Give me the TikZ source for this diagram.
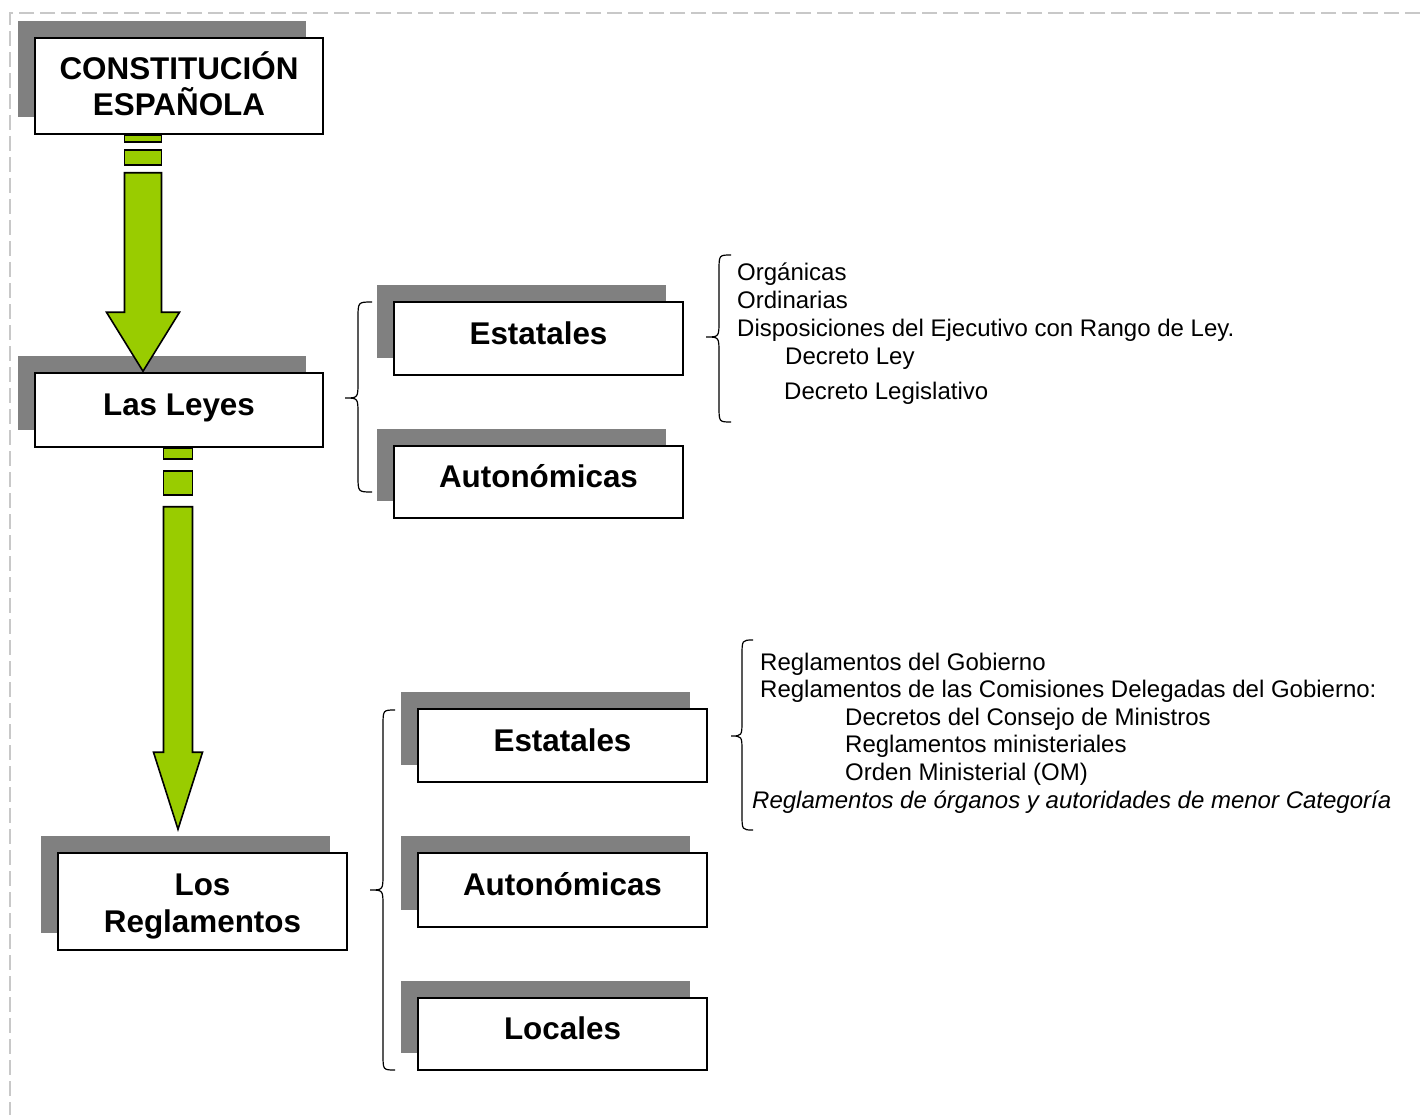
\documentclass[tikz,border=0pt]{standalone}
\usepackage{fontspec}
\setmainfont{Liberation Sans}
\usetikzlibrary{calc,shadows}
\definecolor{grn}{RGB}{153,204,0}
\definecolor{shd}{RGB}{128,128,128}
\definecolor{frm}{RGB}{200,200,200}
\tikzset{
  box/.style={draw=black, line width=1.5pt, fill=white, inner sep=0pt, align=center,
    font=\fontsize{31.4}{36}\selectfont\bfseries,
    general shadow={fill=shd, shadow xshift=-17pt, shadow yshift=17pt}},
  oneline/.style={text height=23pt, text depth=12pt},
  lbl/.style={anchor=base west, inner sep=0pt, font=\fontsize{24}{28}\selectfont},
  brc/.style={draw=black, line width=1.2pt},
  arr/.style={fill=grn, draw=black, line width=1.6pt, line join=miter},
  frame/.style={draw=frm, line width=2pt, dash pattern=on 15pt off 6pt}
}
\newcommand\liftt[2]{\raisebox{#1}[\height][\depth]{#2}}
\newcommand\curlyb[6]{% end x, vertical x, tip x, top y, middle y, bottom y
  \draw[brc] (#1,#4) .. controls (#2,#4) .. (#2,#4+16) -- (#2,#5-16)
    .. controls (#2,#5) .. (#3,#5) .. controls (#2,#5) .. (#2,#5+16)
    -- (#2,#6-16) .. controls (#2,#6) .. (#1,#6);}
\begin{document}
\begin{tikzpicture}[x=1pt,y=-1pt]
\useasboundingbox (0,0) rectangle (1420,1115);
\draw[frame] (1420,13) -- (10,13) -- (10,1115);

% main column
\node[box, minimum width=288, minimum height=96] (ce) at (179,86) {\liftt{2pt}{CONSTITUCIÓN}\\\liftt{2pt}{ESPAÑOLA}};
\node[box, oneline, minimum width=288, minimum height=74] (leyes) at (179,410) {Las Leyes};
\node[box, minimum width=289, minimum height=97] (reg) at (202.5,901.5) {\liftt{-5pt}{Los}\\\liftt{-6pt}{Reglamentos}};

% leyes group
\node[box, oneline, minimum width=289, minimum height=73] (est1) at (538.5,338.5) {Estatales};
\node[box, oneline, minimum width=289, minimum height=72] (aut1) at (538.5,482) {Autonómicas};

% reglamentos group
\node[box, oneline, minimum width=289, minimum height=73] (est2) at (562.5,745.5) {Estatales};
\node[box, oneline, minimum width=289, minimum height=74] (aut2) at (562.5,890) {Autonómicas};
\node[box, oneline, minimum width=289, minimum height=72] (loc) at (562.5,1034) {Locales};

% arrow 1
\coordinate (a1t) at ($(ce.south)+(-36,0)$);
\coordinate (a1p) at ($(leyes.north)+(-36,-1)$);
\filldraw[arr] ($(a1t)+(-18.5,0)$) rectangle ($(a1t)+(18.5,7)$);
\filldraw[arr] ($(a1t)+(-18.5,15)$) rectangle ($(a1t)+(18.5,30)$);
\filldraw[arr] ($(a1t)+(-18.5,38)$) -- ($(a1t)+(18.5,38)$) -- ($(a1p)+(18.5,-59)$)
  -- ($(a1p)+(36.5,-59)$) -- (a1p) -- ($(a1p)+(-36.5,-59)$) -- ($(a1p)+(-18.5,-59)$) -- cycle;

% arrow 2
\coordinate (a2t) at ($(leyes.south)+(-1,0)$);
\coordinate (a2p) at ($(reg.north)+(-24.5,-23)$);
\filldraw[arr] ($(a2t)+(-14.5,0)$) rectangle ($(a2t)+(14.5,11)$);
\filldraw[arr] ($(a2t)+(-14.5,23)$) rectangle ($(a2t)+(14.5,47)$);
\filldraw[arr] ($(a2t)+(-14.5,59)$) -- ($(a2t)+(14.5,59)$) -- ($(a2p)+(14.5,-77)$)
  -- ($(a2p)+(24.5,-77)$) -- (a2p) -- ($(a2p)+(-24.5,-77)$) -- ($(a2p)+(-14.5,-77)$) -- cycle;

% braces
\curlyb{372}{358}{345}{302}{398}{492}
\curlyb{395}{383}{370}{710}{890}{1070}
\curlyb{731}{719}{706}{255}{337}{422}
\curlyb{753}{742}{731}{640}{736}{830}

% texts leyes
\node[lbl] (t1) at (737,280.6) {Orgánicas};
\node[lbl] (t2) at (737,308.6) {Ordinarias};
\node[lbl] (t3) at (737,336.6) {Disposiciones del Ejecutivo con Rango de Ley.};
\node[lbl] (t4) at (785,364.6) {Decreto Ley};
\node[lbl] (t5) at (784,399.6) {Decreto Legislativo};

% texts reglamentos
\node[lbl] (r1) at (760,670.6) {Reglamentos del Gobierno};
\node[lbl] (r2) at (760,697.6) {Reglamentos de las Comisiones Delegadas del Gobierno:};
\node[lbl] (r3) at (845,725.6) {Decretos del Consejo de Ministros};
\node[lbl] (r4) at (845,752.6) {Reglamentos ministeriales};
\node[lbl] (r5) at (845,780.6) {Orden Ministerial (OM)};
\node[lbl, font=\fontsize{24}{28}\selectfont\itshape] (r6) at (752,808.6) {Reglamentos de órganos y autoridades de menor Categoría};
\end{tikzpicture}
\end{document}
